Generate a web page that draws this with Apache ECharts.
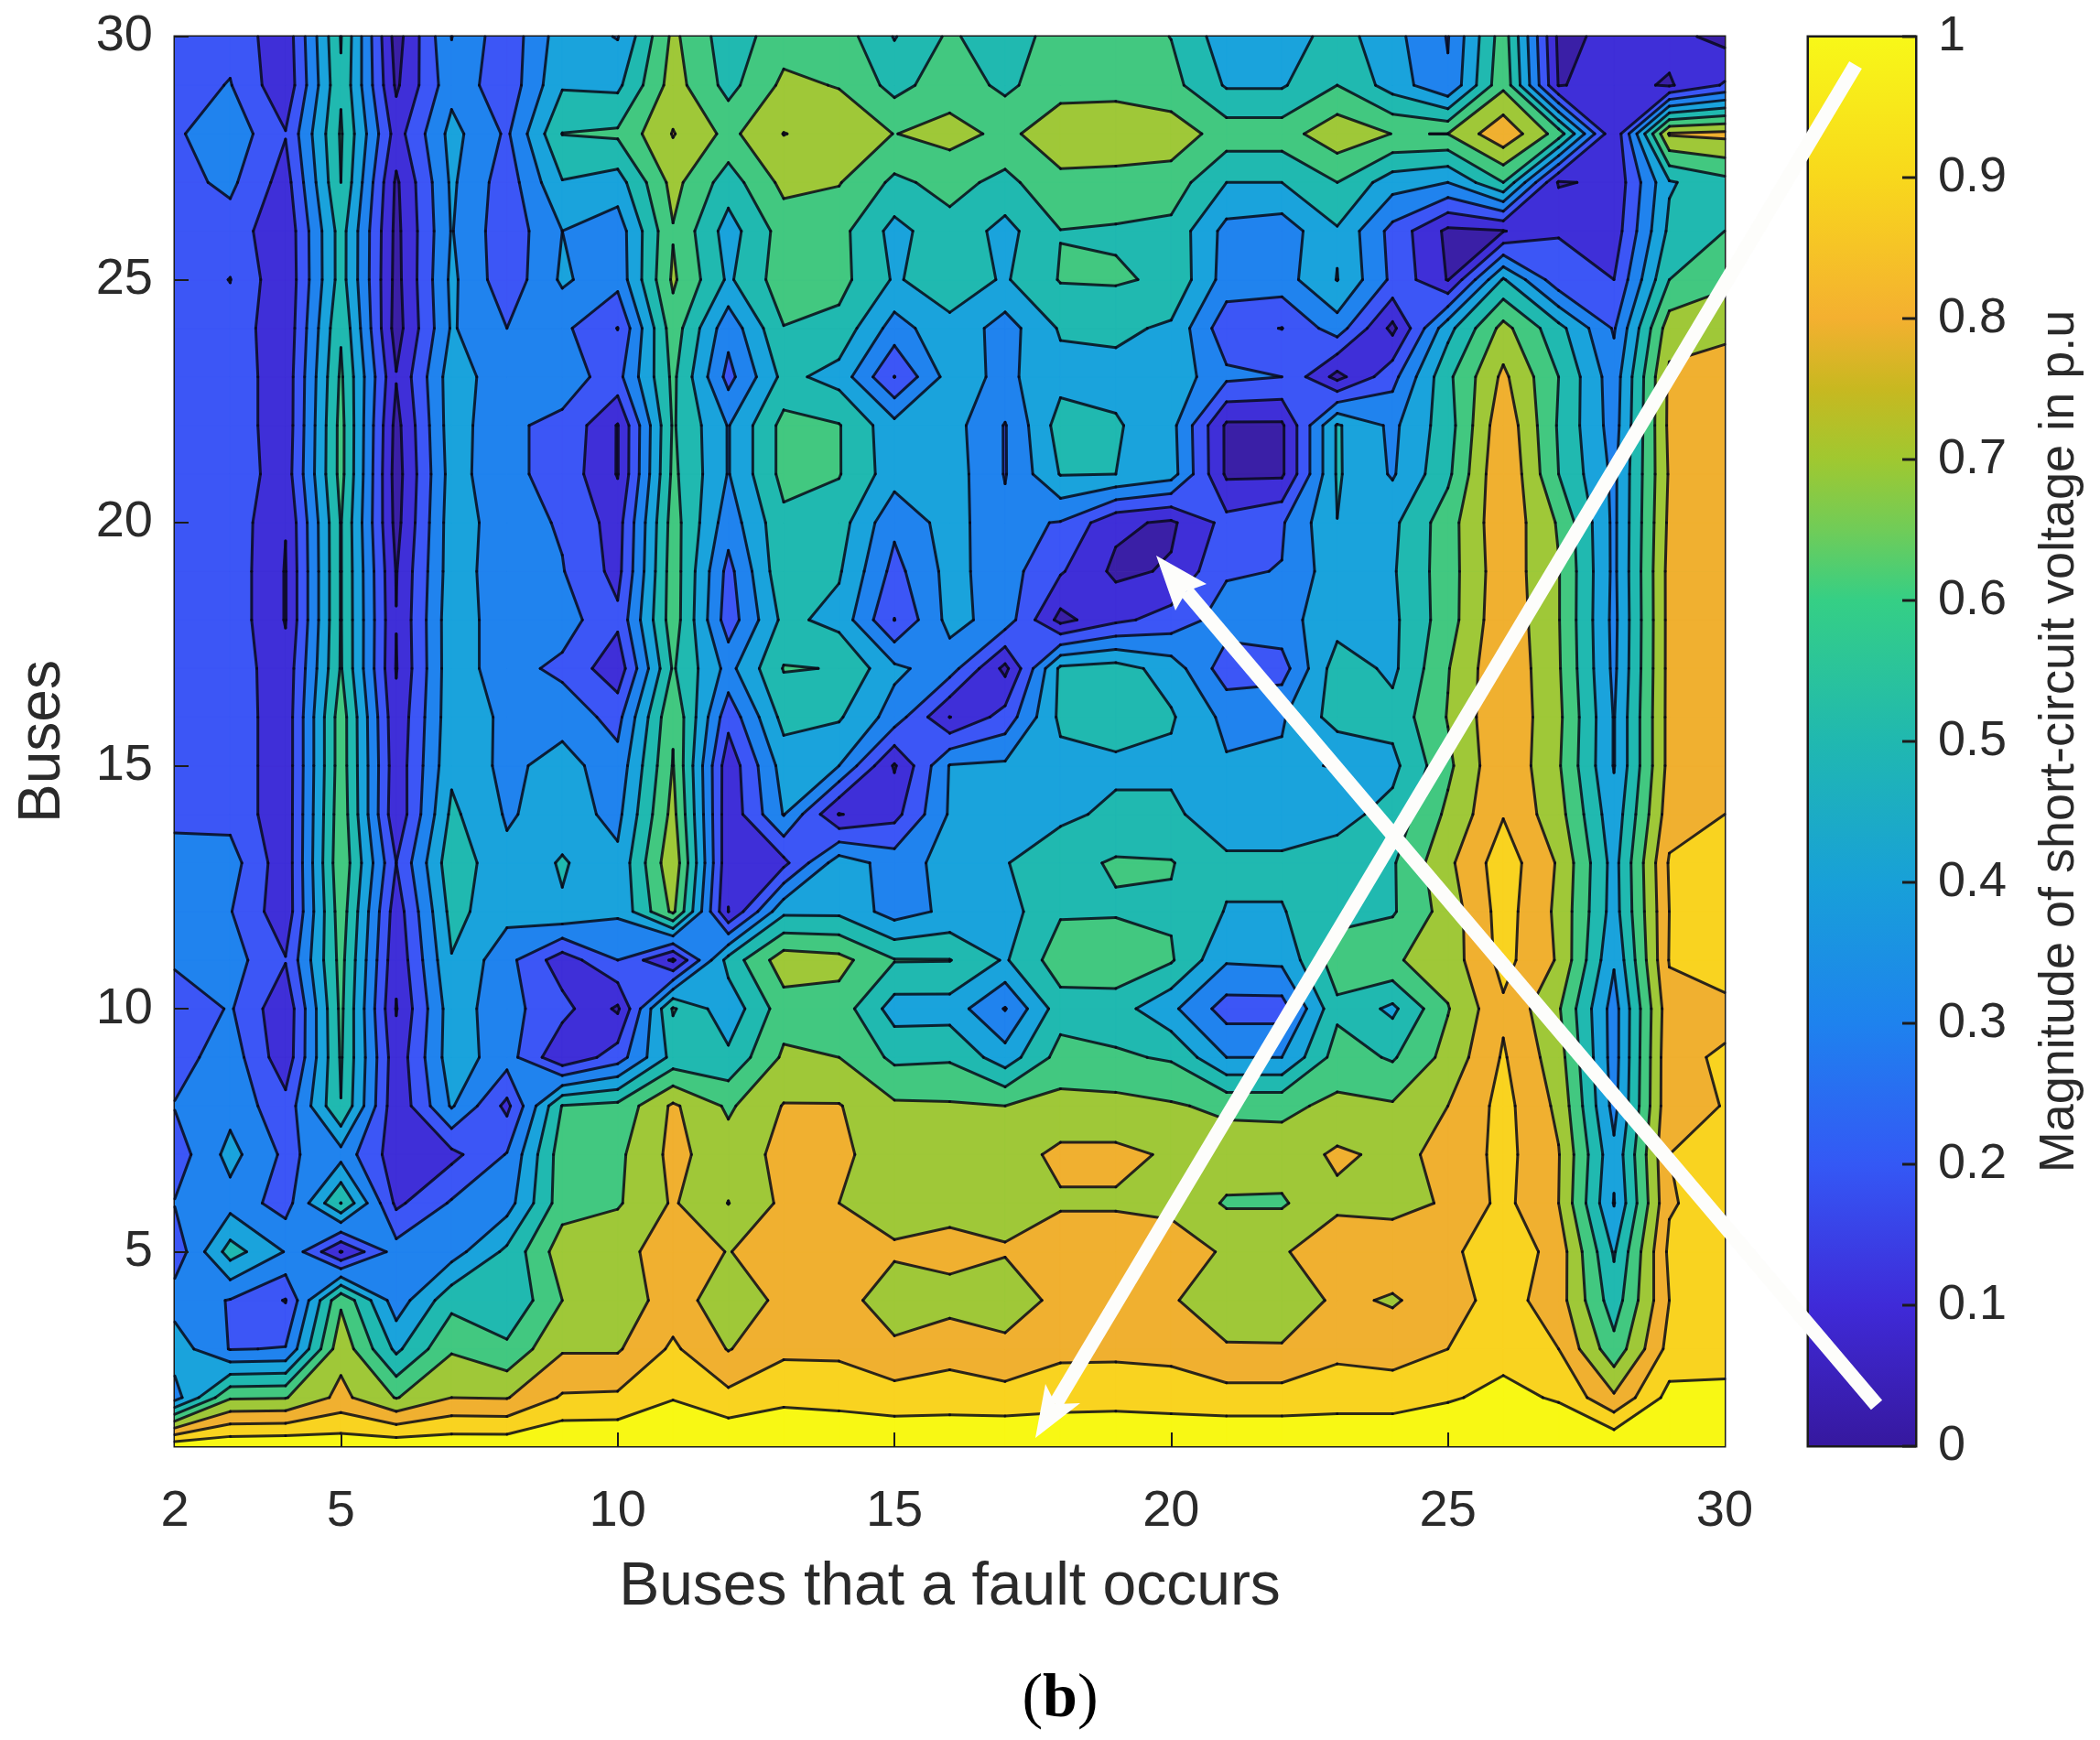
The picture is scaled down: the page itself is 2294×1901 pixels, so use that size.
<!DOCTYPE html>
<html>
<head>
<meta charset="utf-8">
<title>Short-circuit voltage contour</title>
<script src="https://cdn.jsdelivr.net/npm/echarts@6/dist/echarts.min.js"></script>
<style>
  html, body { margin: 0; padding: 0; background: #fff; }
  #main { width: 2294px; height: 1901px; }
</style>
</head>
<body>
<div id="main"></div>
<script>
// buses along the x axis, 2..30, and up the y axis, 1..30
const busX = [2,3,4,5,6,7,8,9,10,11,12,13,14,15,16,17,18,19,20,21,22,23,24,25,26,27,28,29,30]
const busY = [1,2,3,4,5,6,7,8,9,10,11,12,13,14,15,16,17,18,19,20,21,22,23,24,25,26,27,28,29,30]

// voltage, one list per y bus, values for x = 2..30
const row30 = [.24,.25,.13,.555,.06,.372,.22,.42,.365,.66,.50,.60,.60,.455,.565,.49,.60,.60,.548,.41,.41,.50,.40,.275,.60,.08,.12,.13,.07]
const row29 = [.24,.285,.12,.54,.085,.34,.22,.45,.44,.68,.52,.66,.635,.52,.60,.53,.61,.61,.58,.45,.45,.55,.42,.29,.62,.095,.13,.09,.20]
const row28 = [.266,.34,.195,.56,.15,.40,.265,.552,.565,.735,.615,.732,.70,.638,.67,.62,.69,.70,.69,.60,.60,.70,.638,.641,.80,.60,.11,.74,.755]
const row27 = [.25,.30,.15,.55,.085,.385,.23,.455,.42,.67,.505,.665,.645,.531,.58,.524,.62,.61,.60,.46,.46,.55,.41,.37,.55,.09,.12,.45,.52]
const row26 = [.23,.24,.12,.50,.075,.375,.22,.37,.32,.634,.42,.59,.58,.43,.52,.43,.548,.54,.525,.34,.32,.45,.25,.08,.095,.185,.14,.48,.55]
const row25 = [.23,.282,.115,.50,.07,.39,.22,.385,.31,.655,.445,.60,.58,.45,.51,.45,.556,.56,.535,.33,.33,.463,.26,.095,.47,.22,.19,.55,.62]
const row24 = [.23,.25,.12,.54,.06,.38,.28,.30,.188,.60,.31,.547,.522,.33,.436,.33,.47,.48,.445,.22,.188,.326,.075,.43,.67,.49,.27,.69,.71]
const row23 = [.24,.25,.13,.565,.105,.42,.31,.31,.25,.57,.25,.486,.425,.188,.408,.35,.43,.43,.43,.30,.28,.07,.25,.53,.75,.55,.32,.748,.77]
const row22 = [.24,.25,.13,.58,.07,.42,.29,.265,.095,.56,.365,.58,.555,.40,.41,.275,.50,.47,.40,.085,.085,.47,.35,.51,.80,.54,.33,.75,.78]
const row21 = [.24,.25,.14,.58,.06,.41,.30,.25,.095,.57,.365,.58,.555,.41,.42,.275,.465,.46,.41,.085,.085,.47,.36,.53,.82,.55,.35,.74,.78]
const row20 = [.24,.25,.103,.555,.07,.42,.32,.27,.15,.59,.32,.528,.50,.30,.41,.30,.275,.12,.085,.22,.27,.459,.44,.60,.80,.63,.35,.75,.79]
const row19 = [.24,.25,.095,.555,.095,.42,.31,.285,.16,.60,.25,.53,.47,.25,.40,.32,.20,.08,.11,.27,.283,.43,.45,.60,.79,.645,.35,.76,.80]
const row18 = [.24,.25,.095,.555,.102,.43,.31,.32,.21,.60,.23,.485,.43,.188,.40,.33,.07,.17,.225,.32,.34,.42,.44,.60,.80,.645,.345,.76,.80]
const row17 = [.24,.25,.125,.558,.095,.43,.31,.26,.13,.56,.34,.555,.547,.39,.32,.075,.48,.50,.42,.23,.24,.51,.44,.635,.81,.65,.35,.76,.80]
const row16 = [.24,.25,.13,.60,.12,.43,.35,.33,.25,.63,.22,.49,.47,.33,.098,.225,.48,.51,.47,.345,.36,.50,.49,.645,.81,.66,.365,.76,.80]
const row15 = [.24,.25,.13,.60,.13,.44,.345,.41,.31,.645,.13,.41,.37,.09,.375,.385,.43,.44,.44,.38,.385,.365,.435,.62,.81,.65,.365,.76,.80]
const row14 = [.24,.25,.13,.61,.12,.48,.36,.41,.345,.67,.125,.375,.095,.16,.38,.40,.44,.48,.48,.40,.40,.43,.49,.66,.815,.675,.40,.78,.82]
const row13 = [.345,.32,.13,.62,.19,.52,.39,.47,.39,.71,.12,.165,.42,.33,.40,.455,.52,.56,.555,.48,.48,.50,.54,.71,.87,.72,.425,.83,.87]
const row12 = [.33,.285,.13,.60,.14,.49,.40,.45,.385,.66,.098,.44,.44,.33,.39,.42,.54,.54,.54,.455,.455,.52,.54,.68,.86,.71,.42,.82,.87]
const row11 = [.30,.32,.195,.58,.12,.455,.31,.14,.28,.085,.495,.69,.67,.555,.553,.45,.60,.62,.56,.38,.39,.60,.63,.68,.85,.72,.38,.825,.87]
const row10 = [.20,.29,.12,.57,.095,.42,.31,.22,.085,.56,.40,.60,.60,.42,.42,.275,.51,.50,.39,.24,.24,.53,.44,.635,.805,.65,.33,.79,.795]
const row09 = [.24,.33,.13,.56,.13,.42,.32,.115,.235,.49,.48,.655,.64,.53,.538,.41,.585,.563,.54,.37,.37,.59,.54,.67,.83,.68,.33,.80,.83]
const row08 = [.285,.34,.22,.548,.12,.38,.165,.555,.575,.745,.625,.735,.735,.655,.65,.64,.67,.67,.65,.62,.62,.66,.65,.73,.85,.71,.34,.80,.822]
const row07 = [.23,.40,.26,.336,.14,.165,.285,.60,.62,.755,.68,.755,.75,.68,.68,.69,.75,.75,.72,.69,.68,.745,.71,.75,.85,.735,.39,.82,.87]
const row06 = [.285,.335,.24,.552,.17,.29,.33,.60,.63,.74,.638,.75,.73,.70,.70,.71,.72,.72,.71,.63,.63,.71,.70,.74,.845,.73,.365,.81,.87]
const row05 = [.22,.50,.365,.095,.32,.33,.48,.69,.71,.76,.728,.76,.77,.74,.76,.735,.78,.78,.77,.72,.72,.79,.79,.795,.89,.78,.45,.84,.87]
const row04 = [.33,.275,.185,.625,.32,.52,.47,.64,.68,.77,.68,.75,.76,.69,.695,.69,.75,.78,.74,.67,.66,.75,.72,.78,.86,.77,.50,.82,.87]
const row03 = [.42,.275,.285,.70,.44,.63,.57,.72,.72,.836,.725,.80,.80,.745,.79,.75,.80,.80,.795,.74,.74,.80,.785,.82,.88,.82,.58,.85,.87]
const row02 = [.33,.63,.635,.755,.635,.73,.725,.83,.835,.905,.845,.89,.88,.86,.86,.855,.87,.875,.865,.855,.855,.865,.865,.90,.935,.90,.745,.94,.935]
const row01 = [.97,.98,.985,.965,.97,.97,.97,1,1,1,1,.99,.99,.99,1,1,1,1,1,1,1,1,1,1,1,1,.995,1,1]

const rows = [row01,row02,row03,row04,row05,row06,row07,row08,row09,row10,row11,row12,row13,row14,row15,
  row16,row17,row18,row19,row20,row21,row22,row23,row24,row25,row26,row27,row28,row29,row30]

// contour levels and the flat colour of each band between them
const levels = [.10,.19,.28,.37,.46,.55,.64,.73,.82,.91]
const bandColors = ['#3a1fa6','#3f2fd8','#3c56f6','#2083ee','#1aa3dc','#20b9b0','#42c880','#9fc838','#f0b030','#f9d320','#f8f814']

// colour bar
const barStops = [0,.1,.2,.3,.4,.5,.6,.65,.7,.75,.8,.9,1]
const barColors = ['#36189e','#3f2ad8','#3458f5','#1e82ee','#18a0d8','#20b8b0','#35cf85','#70cc58','#a0c830','#c8b820','#f4b030','#f8d81c','#f8f818']
const barTicks = [0,.1,.2,.3,.4,.5,.6,.7,.8,.9,1]

const xLabels = [2,5,10,15,20,25,30]
const xTicks = [5,10,15,20,25]
const yLabels = [5,10,15,20,25,30]

const textColor = '#2a2a2a'
const lineColor = 'rgba(8,8,24,0.85)'
const tickColor = '#1c1c1c'

// one item per grid cell, its lower left bus pair
let cells = []
for (let j = 0; j < busY.length - 1; j++) {
  for (let i = 0; i < busX.length - 1; i++) {
    cells.push([busX[i], busY[j]])
  }
}

// layers of the filled contour, painted from the lowest band up
let layers = [[-1, 0]]
levels.forEach((level, k) => layers.push([k, 0]))

function cellCorners(x, y) {
  let i = x - busX[0]
  let j = y - busY[0]
  return [
    [x, y, rows[j][i]],
    [x + 1, y, rows[j][i + 1]],
    [x + 1, y + 1, rows[j + 1][i + 1]],
    [x, y + 1, rows[j + 1][i]]
  ]
}

function crossing(a, b, level) {
  let t = (level - a[2]) / (b[2] - a[2])
  return [a[0] + t * (b[0] - a[0]), a[1] + t * (b[1] - a[1])]
}

function isSaddle(c, level) {
  let a = c[0][2] >= level
  let b = c[1][2] >= level
  return a === (c[2][2] >= level) && b === (c[3][2] >= level) && a !== b
}

function cellCentre(c) {
  return (c[0][2] + c[1][2] + c[2][2] + c[3][2]) / 4
}

// corner k cut off from the rest of the cell by one straight segment
function cornerSegment(c, k, level) {
  let prev = c[(k + 3) % 4]
  let next = c[(k + 1) % 4]
  return [crossing(prev, c[k], level), crossing(c[k], next, level)]
}

// polygons of the cell at or above level
function clipAbove(c, level) {
  if (isSaddle(c, level) && cellCentre(c) < level) {
    let out = []
    c.forEach(function(corner, k) {
      if (corner[2] >= level) {
        let seg = cornerSegment(c, k, level)
        out.push([seg[0], [corner[0], corner[1]], seg[1]])
      }
    })
    return out
  }
  let poly = []
  for (let k = 0; k < 4; k++) {
    let a = c[k]
    let b = c[(k + 1) % 4]
    if (a[2] >= level) poly.push([a[0], a[1]])
    if ((a[2] >= level) !== (b[2] >= level)) poly.push(crossing(a, b, level))
  }
  return poly.length > 2 ? [poly] : []
}

// contour segments of the cell at level
function cellSegments(c, level) {
  if (isSaddle(c, level)) {
    let cutHigh = cellCentre(c) < level
    let segs = []
    c.forEach(function(corner, k) {
      if ((corner[2] >= level) === cutHigh) segs.push(cornerSegment(c, k, level))
    })
    return segs
  }
  let pts = []
  for (let k = 0; k < 4; k++) {
    let a = c[k]
    let b = c[(k + 1) % 4]
    if ((a[2] >= level) !== (b[2] >= level)) pts.push(crossing(a, b, level))
  }
  return pts.length === 2 ? [pts] : []
}

function renderFill(params, api) {
  let k = api.value(0)
  let color = bandColors[k + 1]
  let children = []
  cells.forEach(function(cell) {
    let c = cellCorners(cell[0], cell[1])
    let polys = k < 0 ? [c.map(p => [p[0], p[1]])] : clipAbove(c, levels[k])
    polys.forEach(function(poly) {
      children.push({
        type: 'polygon',
        shape: { points: poly.map(p => api.coord(p)) },
        style: { fill: color, stroke: color, lineWidth: 1 }
      })
    })
  })
  return { type: 'group', children: children }
}

function renderLines(params, api) {
  let c = cellCorners(api.value(0), api.value(1))
  let children = []
  levels.forEach(function(level) {
    cellSegments(c, level).forEach(function(seg) {
      children.push({
        type: 'polyline',
        shape: { points: seg.map(p => api.coord(p)) },
        style: { fill: null, stroke: lineColor, lineWidth: 3, lineCap: 'round' }
      })
    })
  })
  return { type: 'group', children: children }
}

// colour bar, its outline and its inward ticks on the right edge
function renderBar(params, api) {
  let low = api.coord([0, 0])
  let high = api.coord([1, 1])
  let stops = barStops.map((s, i) => ({ offset: s, color: barColors[i] }))
  let children = [{
    type: 'rect',
    shape: { x: low[0], y: high[1], width: high[0] - low[0], height: low[1] - high[1] },
    style: { fill: new echarts.graphic.LinearGradient(0, 1, 0, 0, stops), stroke: tickColor, lineWidth: 2 }
  }]
  barTicks.forEach(function(t) {
    let p = api.coord([1, t])
    children.push({
      type: 'polyline',
      shape: { points: [[p[0] - 15, p[1]], [p[0], p[1]]] },
      style: { fill: null, stroke: tickColor, lineWidth: 3 }
    })
  })
  return { type: 'group', children: children }
}

// the two white arrows are pasted over the figure, so they are plain page graphics
function arrow(start, tip, barbA, barbB, neck) {
  return [
    { type: 'line', z: 100, shape: { x1: start[0], y1: start[1], x2: neck[0], y2: neck[1] },
      style: { stroke: '#fdfdfb', lineWidth: 16 } },
    { type: 'polygon', z: 100, shape: { points: [tip, barbA, neck, barbB] }, style: { fill: '#fdfdfb' } }
  ]
}

let myChart = echarts.init(document.getElementById('main'), null, { renderer: 'canvas' })

let option = {
  animation: false,
  backgroundColor: '#fff',
  title: {
    text: '{n|(}{b|b}{n|)}',
    left: 1153,
    top: 1818,
    textAlign: 'center',
    textStyle: {
      fontWeight: 'normal',
      rich: {
        n: { fontFamily: 'Liberation Serif', fontSize: 68, fontWeight: 'normal', color: '#000' },
        b: { fontFamily: 'Liberation Serif', fontSize: 68, fontWeight: 'bold', color: '#000' }
      }
    }
  },
  grid: [
    { left: 191, top: 40, width: 1693, height: 1540, show: true, borderColor: tickColor, borderWidth: 3 },
    { left: 1975, top: 40, width: 118, height: 1540, show: true, borderColor: tickColor, borderWidth: 3 }
  ],
  xAxis: [
    {
      type: 'value', gridIndex: 0, min: 2, max: 30, z: 5,
      name: 'Buses that a fault occurs',
      nameLocation: 'middle',
      nameGap: 122,
      nameTextStyle: { fontFamily: 'Liberation Sans', fontSize: 66, color: textColor },
      axisLine: { show: false },
      splitLine: { show: false },
      axisTick: { show: true, inside: true, length: 15, customValues: xTicks, lineStyle: { color: tickColor, width: 2 } },
      axisLabel: { customValues: xLabels, margin: 44, fontFamily: 'Liberation Sans', fontSize: 56, color: textColor }
    },
    {
      type: 'value', gridIndex: 1, min: 0, max: 1,
      axisLine: { show: false, onZero: false }, axisTick: { show: false }, axisLabel: { show: false }, splitLine: { show: false }
    }
  ],
  yAxis: [
    {
      type: 'value', gridIndex: 0, min: 1, max: 30, z: 5,
      name: 'Buses',
      nameLocation: 'middle',
      nameGap: 112,
      nameRotate: 90,
      nameTextStyle: { fontFamily: 'Liberation Sans', fontSize: 64, color: textColor },
      axisLine: { show: false },
      splitLine: { show: false },
      axisTick: { show: true, inside: true, length: 15, customValues: yLabels, lineStyle: { color: tickColor, width: 2 } },
      axisLabel: { customValues: yLabels, margin: 24, padding: [6, 0, 0, 0], fontFamily: 'Liberation Sans', fontSize: 56, color: textColor }
    },
    {
      type: 'value', gridIndex: 1, min: 0, max: 1, position: 'right', z: 5,
      name: 'Magnitude of short-circuit voltage in p.u',
      nameLocation: 'middle',
      nameGap: 130,
      nameRotate: 90,
      nameTextStyle: { fontFamily: 'Liberation Sans', fontSize: 54, color: textColor },
      axisLine: { show: false, onZero: false },
      splitLine: { show: false },
      axisTick: { show: false },
      axisLabel: {
        customValues: barTicks,
        margin: 24,
        padding: [6, 0, 0, 0],
        fontFamily: 'Liberation Sans',
        fontSize: 54,
        color: textColor,
        formatter: function(v) { return String(Math.round(v * 10) / 10) }
      }
    }
  ],
  series: [
    { type: 'custom', name: 'fill', xAxisIndex: 0, yAxisIndex: 0, z: 2, silent: true, clip: true, renderItem: renderFill, data: layers, encode: { x: -1, y: -1 } },
    { type: 'custom', name: 'lines', xAxisIndex: 0, yAxisIndex: 0, z: 3, silent: true, renderItem: renderLines, data: cells, encode: { x: 0, y: 1 } },
    { type: 'custom', name: 'bar', xAxisIndex: 1, yAxisIndex: 1, z: 2, silent: true, renderItem: renderBar, data: [[0, 0]], encode: { x: 0, y: 1 } }
  ],
  graphic: { elements: [
    ...arrow([2027, 71], [1131, 1571], [1142, 1512], [1180, 1533], [1153, 1534]),
    ...arrow([2050, 1535], [1263, 607], [1318, 638], [1284, 667], [1296, 646])
  ] }
}

myChart.setOption(option)
</script>
</body>
</html>
